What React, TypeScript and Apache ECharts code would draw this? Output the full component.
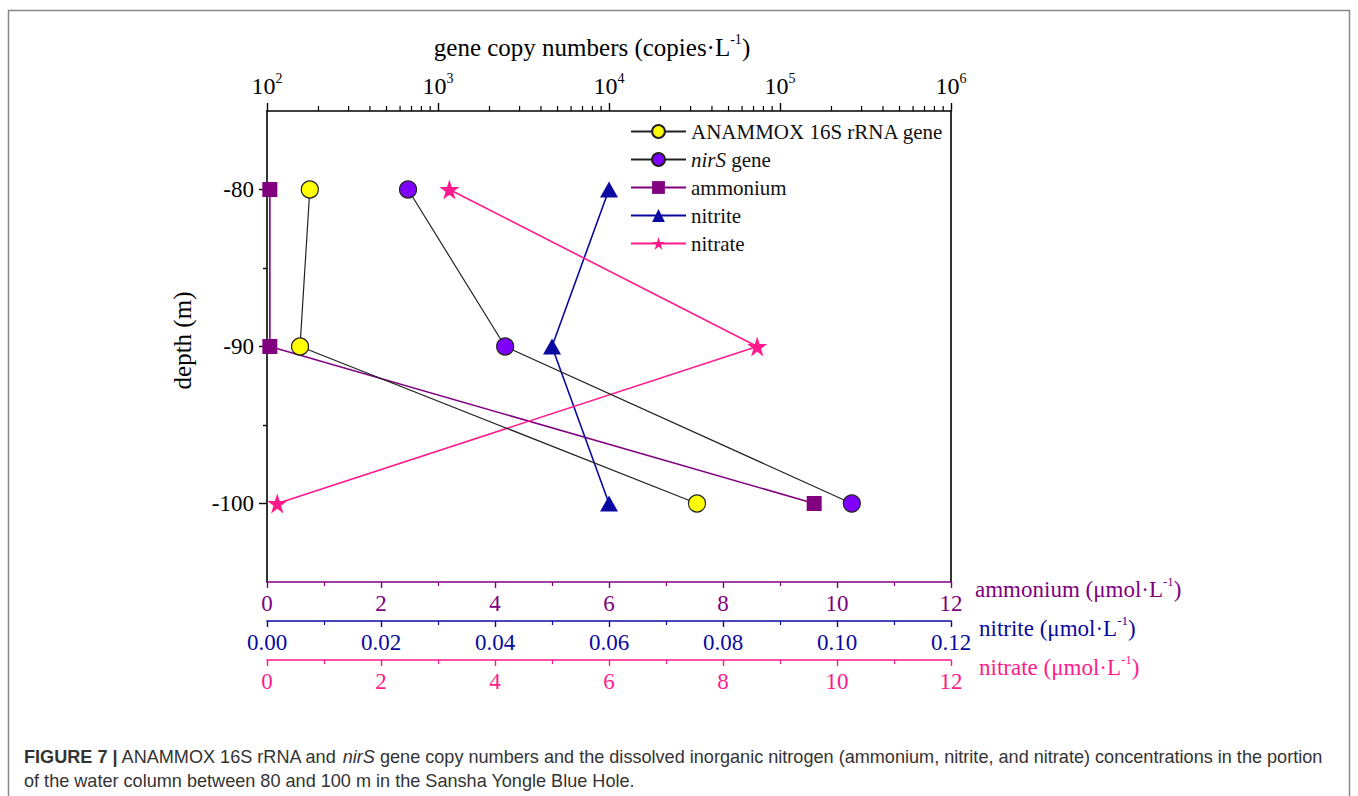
import React, { useEffect, useRef } from 'react';
import * as echarts from 'echarts';

// ---- data ----
const DEPTHS = [-80, -90, -100];
const ANAMMOX = [178, 156, 32700];
const NIRS = [668, 2470, 263000];
const AMMONIUM = [0.05, 0.05, 9.6];
const NITRITE = [0.06, 0.05, 0.06];
const NITRATE = [3.2, 8.6, 0.18];

// ---- axis ticks ----
const GENE_DECADES = [100, 1000, 10000, 100000];
const MINOR_MULTIPLIERS = [2, 3, 4, 5, 6, 7, 8, 9];
const DEPTH_LABELS = [-100, -90, -80];
const DEPTH_MINOR = [-95, -85];

const SERIF = 'Liberation Serif';
const SANS = 'Liberation Sans';
const AMM_C = '#800080';
const NO2_C = '#0a0aa0';
const NO3_C = '#ff1a8c';
const STAR = 'path://M50,0 L61.2,34.5 L97.6,34.5 L68.2,55.9 L79.4,90.5 L50,69.1 L20.6,90.5 L31.8,55.9 L2.4,34.5 L38.8,34.5 Z';

const pair = (xs: number[]) => xs.map((x, i) => [x, DEPTHS[i]]);

const supRich = (color: string, size: number, supSize: number) => ({
  t: { fontFamily: SERIF, fontSize: size, color, lineHeight: size + 6 },
  s: { fontFamily: SERIF, fontSize: supSize, color, verticalAlign: 'top', lineHeight: supSize },
});

export default function App() {
  const ref = useRef<HTMLDivElement>(null);
  useEffect(() => {
    if (!ref.current) return;
    const chart = echarts.init(ref.current, undefined, { renderer: 'svg' });
    const logMinor: number[][] = [];
    GENE_DECADES.forEach((d) => MINOR_MULTIPLIERS.forEach((m) => logMinor.push([d * m, -75])));

    const bottomAxis = (
      color: string,
      max: number,
      interval: number,
      offset: number,
      label: string,
      nameGap: number,
      fmt?: (v: number) => string
    ) => ({
      type: 'value',
      gridIndex: 0,
      position: 'bottom',
      offset,
      min: 0,
      max,
      interval,
      axisLine: { show: true, onZero: false, lineStyle: { color, width: 1.6 } },
      axisTick: { show: true, length: 6, lineStyle: { color, width: 1.4 } },
      minorTick: { show: true, splitNumber: 2, length: 4, lineStyle: { color, width: 1.2 } },
      splitLine: { show: false },
      minorSplitLine: { show: false },
      axisLabel: { color, fontFamily: SERIF, fontSize: 23, margin: 10, formatter: fmt },
      name: `{t|${label} (μmol·L}{s|-1}{t|)}`,
      nameLocation: 'end',
      nameGap,
      nameTextStyle: { padding: [14, 0, 0, 0], rich: supRich(color, 23, 13) },
    });

    chart.setOption({
      animation: false,
      backgroundColor: '#fff',
      grid: { left: 267, top: 111, width: 684, height: 471, containLabel: false },
      legend: {
        orient: 'vertical',
        left: 625,
        top: 116,
        itemWidth: 55,
        itemHeight: 16,
        itemGap: 7,
        data: ['ANAMMOX 16S rRNA gene', 'nirS gene', 'ammonium', 'nitrite', 'nitrate'],
        formatter: (n: string) => (n === 'nirS gene' ? '{i|nirS} gene' : n),
        textStyle: {
          fontFamily: SERIF,
          fontSize: 21,
          color: '#111',
          rich: { i: { fontFamily: SERIF, fontSize: 21, fontStyle: 'italic', color: '#111' } },
        },
      },
      xAxis: [
        {
          type: 'log',
          logBase: 10,
          gridIndex: 0,
          position: 'top',
          min: 100,
          max: 1000000,
          axisLine: { show: true, onZero: false, lineStyle: { color: '#000', width: 1.6 } },
          axisTick: { show: true, length: 8, lineStyle: { color: '#000', width: 1.4 } },
          splitLine: { show: false },
          axisLabel: {
            margin: 10,
            formatter: (v: number) => `{t|10}{s|${Math.round(Math.log10(v))}}`,
            rich: supRich('#000', 24, 14),
          },
          name: '{t|gene copy numbers (copies·L}{s|-1}{t|)}',
          nameLocation: 'middle',
          nameGap: 48,
          nameTextStyle: { padding: [0, 34, 0, 0], rich: supRich('#000', 25, 14) },
        },
        bottomAxis(AMM_C, 12, 2, 0, 'ammonium', 24),
        bottomAxis(NO2_C, 0.12, 0.02, 39, 'nitrite', 28, (v: number) => v.toFixed(2)),
        bottomAxis(NO3_C, 12, 2, 78, 'nitrate', 28),
      ],
      yAxis: [
        {
          type: 'value',
          gridIndex: 0,
          position: 'left',
          min: -105,
          max: -75,
          interval: 5,
          axisLine: { show: true, onZero: false, lineStyle: { color: '#000', width: 1.6 } },
          axisTick: { show: true, customValues: DEPTH_LABELS, length: 8, lineStyle: { color: '#000', width: 1.4 } },
          axisLabel: { customValues: DEPTH_LABELS, color: '#000', fontFamily: SERIF, fontSize: 23, margin: 13 },
          splitLine: { show: false },
          name: 'depth (m)',
          nameLocation: 'middle',
          nameGap: 72,
          nameTextStyle: { fontFamily: SERIF, fontSize: 25, color: '#000', padding: [0, 0, 0, 12] },
        },
        {
          type: 'value',
          gridIndex: 0,
          position: 'left',
          min: -105,
          max: -75,
          interval: 5,
          axisLine: { show: false },
          axisTick: { show: true, customValues: DEPTH_MINOR, length: 4, lineStyle: { color: '#000', width: 1.4 } },
          axisLabel: { show: false },
          splitLine: { show: false },
        },
        {
          type: 'value',
          gridIndex: 0,
          position: 'right',
          min: -105,
          max: -75,
          axisLine: { show: true, onZero: false, lineStyle: { color: '#000', width: 1.6 } },
          axisTick: { show: false },
          axisLabel: { show: false },
          splitLine: { show: false },
        },
      ],
      series: [
        {
          type: 'custom',
          xAxisIndex: 0,
          yAxisIndex: 0,
          silent: true,
          clip: false,
          data: logMinor,
          renderItem: (_p: any, api: any) => {
            const p = api.coord([api.value(0), api.value(1)]);
            return {
              type: 'line',
              shape: { x1: p[0], y1: p[1], x2: p[0], y2: p[1] - 5 },
              style: { stroke: '#000', lineWidth: 1.2 },
            };
          },
        },
        {
          name: 'ANAMMOX 16S rRNA gene',
          type: 'line',
          xAxisIndex: 0,
          yAxisIndex: 0,
          data: pair(ANAMMOX),
          symbol: 'circle',
          symbolSize: 17,
          lineStyle: { color: '#222', width: 1.2 },
          itemStyle: { color: '#ffff00', borderColor: '#222', borderWidth: 1.2 },
          z: 5,
        },
        {
          name: 'nirS gene',
          type: 'line',
          xAxisIndex: 0,
          yAxisIndex: 0,
          data: pair(NIRS),
          symbol: 'circle',
          symbolSize: 17,
          lineStyle: { color: '#222', width: 1.2 },
          itemStyle: { color: '#8000ff', borderColor: '#222', borderWidth: 1.2 },
          z: 5,
        },
        {
          name: 'ammonium',
          type: 'line',
          xAxisIndex: 1,
          yAxisIndex: 0,
          data: pair(AMMONIUM),
          symbol: 'rect',
          symbolSize: 15,
          lineStyle: { color: AMM_C, width: 1.6 },
          itemStyle: { color: AMM_C },
          z: 4,
        },
        {
          name: 'nitrite',
          type: 'line',
          xAxisIndex: 2,
          yAxisIndex: 0,
          data: pair(NITRITE),
          symbol: 'triangle',
          symbolSize: [18, 16],
          lineStyle: { color: NO2_C, width: 1.6 },
          itemStyle: { color: NO2_C },
          z: 4,
        },
        {
          name: 'nitrate',
          type: 'line',
          xAxisIndex: 3,
          yAxisIndex: 0,
          data: pair(NITRATE),
          symbol: STAR,
          symbolSize: 20,
          lineStyle: { color: NO3_C, width: 1.6 },
          itemStyle: { color: NO3_C },
          z: 4,
        },
      ],
      graphic: [
        {
          type: 'rect',
          shape: { x: 8.5, y: 10.5, width: 1341, height: 800 },
          style: { fill: 'none', stroke: '#888', lineWidth: 1.5 },
          silent: true,
        },
        {
          type: 'text',
          x: 24,
          y: 745,
          style: {
            text:
              '{b|FIGURE 7 |} ANAMMOX 16S rRNA and {i|nirS} gene copy numbers and the dissolved inorganic nitrogen (ammonium, nitrite, and nitrate) concentrations in the portion\nof the water column between 80 and 100 m in the Sansha Yongle Blue Hole.',
            fontFamily: SANS,
            fontSize: 18.1,
            lineHeight: 24,
            fill: '#333',
            verticalAlign: 'top',
            rich: {
              b: { fontFamily: SANS, fontSize: 18.1, fontWeight: 'bold', fill: '#333', lineHeight: 24 },
              i: { fontFamily: SANS, fontSize: 18.1, fontStyle: 'italic', fill: '#333', lineHeight: 24 },
            },
          },
        },
      ],
    });
    return () => chart.dispose();
  }, []);
  return <div ref={ref} style={{ position: 'absolute', left: 0, top: 0, width: 1358, height: 796 }} />;
}
